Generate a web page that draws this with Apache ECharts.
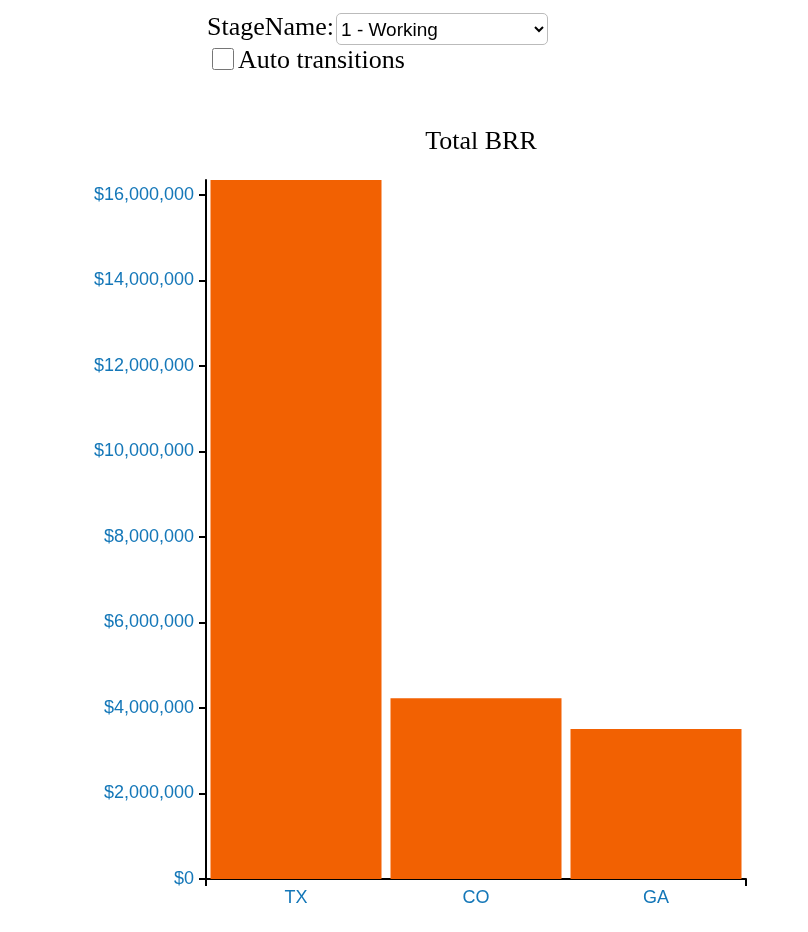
<!DOCTYPE html>
<html><head><meta charset="utf-8">
<script src="https://cdn.jsdelivr.net/npm/echarts@6/dist/echarts.min.js"></script>
<style>
html,body{margin:0;padding:0;background:#fff;}
#chart{position:absolute;left:0;top:0;width:808px;height:932px;}
#ctrl{position:absolute;left:207px;top:12px;font-family:"Liberation Serif",serif;font-size:26px;color:#000;z-index:2;}
#ctrl select{font-family:"Liberation Sans",sans-serif;font-size:19px;width:212px;height:32px;vertical-align:middle;margin-left:2px;border:1px solid #bbb;border-radius:5px;background:#fff;}
#ctrl input{width:22px;height:22px;margin:0 4px 0 5px;vertical-align:-2px;}
</style></head><body>
<div id="ctrl">StageName:<select><option>1 - Working</option></select><br><label><input type="checkbox">Auto transitions</label></div>
<div id="chart"></div>
<script>
const categories = ["TX", "CO", "GA"];
const values = [16350000, 4230000, 3510000];
const yTickMax = 16350000;
const blue = "#1477b8";
const chart = echarts.init(document.getElementById('chart'));
chart.setOption({
  animation:false,
  title:{text:"Total BRR",left:476,textAlign:'center',top:124,textStyle:{fontFamily:"Liberation Serif",fontWeight:'normal',fontSize:26,color:'#000'}},
  grid:{left:206,right:62,top:180,bottom:53},
  xAxis:[{type:'category',data:categories,axisLine:{lineStyle:{color:'#000',width:2}},
    axisTick:{alignWithLabel:true,length:7,lineStyle:{color:'#000',width:2}},
    axisLabel:{color:blue,fontSize:18,fontFamily:"Liberation Sans",margin:10}},
   {type:'value',min:0,max:3,interval:3,position:'bottom',axisLine:{show:false},axisLabel:{show:false},
    axisTick:{show:true,length:7,lineStyle:{color:'#000',width:2}},splitLine:{show:false}}],
  yAxis:{type:'value',min:0,max:yTickMax,interval:2000000,
    axisLine:{show:true,lineStyle:{color:'#000',width:2}},
    axisTick:{show:true,length:7,lineStyle:{color:'#000',width:2}},splitLine:{show:false},
    axisLabel:{showMaxLabel:false,color:blue,fontSize:18,fontFamily:"Liberation Sans",margin:12,
      formatter:v=>'$'+v.toLocaleString('en-US')}},
  series:[{type:'bar',data:values,barCategoryGap:'5%',itemStyle:{color:'#f26102'}}]
});
</script></body></html>
